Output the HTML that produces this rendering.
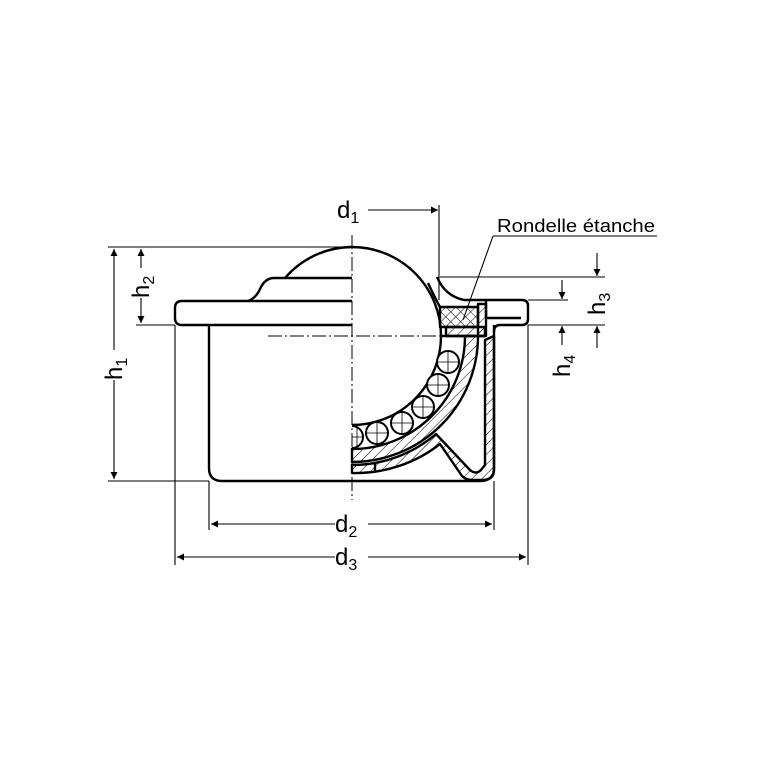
<!DOCTYPE html>
<html><head><meta charset="utf-8"><style>
html,body{margin:0;padding:0;background:#fff;}
svg{display:block;}
text{font-family:"Liberation Sans",sans-serif;fill:#000;}
</style></head><body>
<svg width="767" height="767" viewBox="0 0 767 767" xmlns="http://www.w3.org/2000/svg">
<defs>
<pattern id="hat" patternUnits="userSpaceOnUse" width="7" height="7" patternTransform="rotate(45)">
<line x1="0" y1="0" x2="0" y2="7" stroke="#000" stroke-width="1"/></pattern>
<pattern id="hat2" patternUnits="userSpaceOnUse" width="7" height="7" patternTransform="rotate(-45)">
<line x1="0" y1="0" x2="0" y2="7" stroke="#000" stroke-width="1"/></pattern>
<marker id="ar" viewBox="0 0 10 10" refX="10" refY="5" markerWidth="12" markerHeight="7" markerUnits="userSpaceOnUse" orient="auto-start-reverse">
<path d="M0,0 L10,5 L0,10 z" fill="#000"/></marker>
<clipPath id="rh"><rect x="352" y="0" width="400" height="767"/></clipPath>
</defs>
<g fill="none" stroke="#000" stroke-width="2.4" stroke-linejoin="round">
<path d="M352,301 L182,301 Q175,301 175,308 L175,318 Q175,325 182,325 L352,325"/>
<path d="M248,301 Q256,298 260,289 Q265,278 274,278 L352,278"/>
<path d="M285,278 A89,89 0 0 1 352,247"/>
<path d="M352,247 A89,89 0 0 1 441,336"/>
<path d="M441,336 A89,89 0 0 1 352,425"/>
<path d="M209,325 L209,468 Q209,481 222,481 L480,481 Q494,481 494,468 L494,325"/>
<path d="M465,336 A113,113 0 0 1 352,449 L352,462 A126,126 0 0 0 478,336 Z" fill="url(#hat)"/>
<path d="M352,465 A129,129 0 0 0 436,434 L470,470 Q476,475 481,470 L485,465 L485,340 L494,336 L494,470 Q494,480 482,480 L472,480 Q466,480 462,476 L440,444 A137,137 0 0 1 352,473 Z" fill="url(#hat)"/>
<line x1="375" y1="462" x2="375" y2="472"/>
<path d="M437,277 Q445,296 464,300 L522,300 Q528,300 528,306 L528,319 Q528,325 522,325 L500,325 Q494,325 494,332"/>
<path d="M428,283 Q436,300 440,307"/>
<path d="M486,300 L486,318 L521,318"/>
<rect x="440" y="307" width="38" height="20" fill="url(#hat2)"/>
<rect x="440" y="307" width="38" height="20" fill="url(#hat)" stroke="none"/>
<rect x="446" y="327" width="39" height="9" fill="url(#hat)"/>
<rect x="478" y="304" width="8" height="32" fill="url(#hat)"/>
<line x1="441" y1="336" x2="485" y2="336"/>
</g>
<g fill="#fff" stroke="#000" stroke-width="2">
<circle cx="448" cy="362" r="11"/><circle cx="438" cy="385" r="11"/><circle cx="423" cy="407" r="11"/>
<circle cx="402" cy="423" r="11"/><circle cx="377" cy="433" r="11"/>
<circle cx="352" cy="437" r="11" clip-path="url(#rh)"/>
</g>
<g stroke="#000" stroke-width="0.8">
<path d="M437,362h22M448,351v22M427,385h22M438,374v22M412,407h22M423,396v22M391,423h22M402,412v22M366,433h22M377,422v22M352,437h11M357,426v22"/>
</g>
<g stroke="#000" stroke-width="1" stroke-dasharray="14,3,2,3">
<line x1="352" y1="235" x2="352" y2="500"/>
<line x1="268" y1="336" x2="455" y2="336"/>
</g>
<g stroke="#000" stroke-width="1.1" fill="none">
<line x1="108" y1="247" x2="352" y2="247"/>
<line x1="136" y1="325" x2="175" y2="325"/>
<line x1="108" y1="481" x2="209" y2="481"/>
<line x1="114" y1="249" x2="114" y2="350" marker-start="url(#ar)"/>
<line x1="114" y1="380" x2="114" y2="479" marker-end="url(#ar)"/>
<line x1="141" y1="249" x2="141" y2="268" marker-start="url(#ar)"/>
<line x1="141" y1="298" x2="141" y2="323" marker-end="url(#ar)"/>
<line x1="175" y1="325" x2="175" y2="565"/>
<line x1="209" y1="481" x2="209" y2="530"/>
<line x1="494" y1="481" x2="494" y2="530"/>
<line x1="528" y1="325" x2="528" y2="565"/>
<line x1="211" y1="524" x2="335" y2="524" marker-start="url(#ar)"/>
<line x1="368" y1="524" x2="492" y2="524" marker-end="url(#ar)"/>
<line x1="177" y1="557" x2="335" y2="557" marker-start="url(#ar)"/>
<line x1="368" y1="557" x2="526" y2="557" marker-end="url(#ar)"/>
<line x1="439" y1="205" x2="439" y2="300"/>
<line x1="368" y1="210" x2="438" y2="210" marker-end="url(#ar)"/>
<line x1="440" y1="277" x2="605" y2="277"/>
<line x1="528" y1="300" x2="568" y2="300"/>
<line x1="528" y1="325" x2="605" y2="325"/>
<line x1="597" y1="253" x2="597" y2="276" marker-end="url(#ar)"/>
<line x1="562" y1="280" x2="562" y2="299" marker-end="url(#ar)"/>
<line x1="597" y1="348" x2="597" y2="326" marker-end="url(#ar)"/>
<line x1="562" y1="345" x2="562" y2="326" marker-end="url(#ar)"/>
<line x1="493" y1="236" x2="657" y2="236"/>
<line x1="493" y1="236" x2="463" y2="320"/>
</g>
<text x="337" y="218" font-size="24">d<tspan font-size="16" dy="5">1</tspan></text>
<text x="335" y="532" font-size="24">d<tspan font-size="16" dy="5">2</tspan></text>
<text x="335" y="565" font-size="24">d<tspan font-size="16" dy="5">3</tspan></text>
<text x="497" y="232" font-size="18" textLength="158" lengthAdjust="spacingAndGlyphs">Rondelle étanche</text>
<text transform="translate(122,380) rotate(-90)" font-size="24">h<tspan font-size="16" dy="5">1</tspan></text>
<text transform="translate(149,298) rotate(-90)" font-size="24">h<tspan font-size="16" dy="5">2</tspan></text>
<text transform="translate(605,315) rotate(-90)" font-size="24">h<tspan font-size="16" dy="5">3</tspan></text>
<text transform="translate(570,377) rotate(-90)" font-size="24">h<tspan font-size="16" dy="5">4</tspan></text>
</svg>
</body></html>
